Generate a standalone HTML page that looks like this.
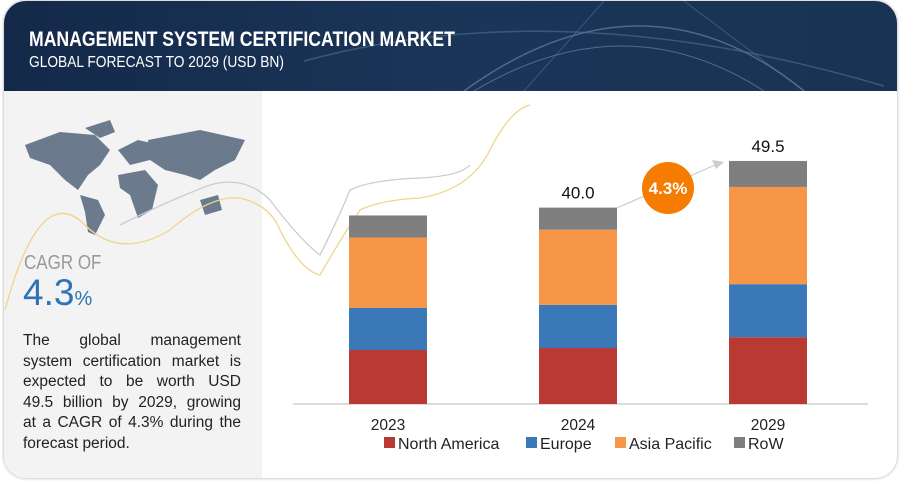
<!DOCTYPE html>
<html><head><meta charset="utf-8">
<style>
html,body{margin:0;padding:0;background:#fff;}
body{width:900px;height:481px;position:relative;overflow:hidden;font-family:"Liberation Sans",sans-serif;}
#card{position:absolute;left:4px;top:1px;width:893px;height:477px;border-radius:22px;background:#fff;box-shadow:0 0 3px rgba(0,0,0,0.35);overflow:hidden;}
#header{position:absolute;left:0;top:0;width:893px;height:90px;background:linear-gradient(90deg,#14294a 0%,#1a3558 50%,#193354 100%);}
#left{position:absolute;left:0;top:90px;width:258px;height:387px;background:#f3f3f3;}
.t1{position:absolute;left:25px;top:27px;color:#fff;font-weight:bold;font-size:21px;white-space:nowrap;transform:scaleX(0.84);transform-origin:0 0;}
.t2{position:absolute;left:25px;top:53px;color:#fff;font-size:16px;white-space:nowrap;transform:scaleX(0.86);transform-origin:0 0;}
.cagr{position:absolute;left:24px;top:252px;color:#999;font-size:20px;white-space:nowrap;transform:scaleX(0.85);transform-origin:0 0;}
.big{position:absolute;left:23px;top:272px;color:#2e74b5;font-size:37px;}
.big span{font-size:20px;}
.desc{position:absolute;left:23px;top:331px;width:218px;color:#222;font-size:15.5px;line-height:20.5px;}
.desc div{text-align:justify;text-align-last:justify;white-space:nowrap;}
.desc div.last{text-align-last:left;}
</style></head><body>
<div id="card">
 <div id="header">
  <svg width="893" height="90" style="position:absolute;left:0;top:0">
   <path d="M460 90 Q640 -40 800 90" stroke="#6d8db0" stroke-width="1.5" fill="none" opacity="0.6"/>
   <path d="M470 90 Q620 0 760 90" stroke="#8aa3c0" stroke-width="1" fill="none" opacity="0.5"/>
   <path d="M300 60 Q560 -10 880 85" stroke="#4f6f95" stroke-width="1.5" fill="none" opacity="0.6"/>
   <path d="M520 90 L600 0" stroke="#5b7aa0" stroke-width="1" opacity="0.5"/>
   <path d="M680 0 L800 90" stroke="#5b7aa0" stroke-width="1" opacity="0.5"/>
  </svg>
  <div class="t1">MANAGEMENT SYSTEM CERTIFICATION MARKET</div>
  <div class="t2">GLOBAL FORECAST TO 2029 (USD BN)</div>
 </div>
 <div id="left"></div>
</div>
<svg width="900" height="481" style="position:absolute;left:0;top:0">
 <g fill="#6c7a8e">
  <path d="M25 145 L60 132 L95 135 L110 150 L100 165 L88 175 L78 190 L65 180 L50 165 L30 158Z"/>
  <path d="M85 128 L110 120 L115 132 L100 138Z"/>
  <path d="M80 195 L98 200 L105 215 L95 235 L88 232 L85 212Z"/>
  <path d="M118 150 L138 140 L160 145 L150 160 L130 165Z"/>
  <path d="M118 175 L145 170 L158 185 L152 210 L138 218 L130 195 L120 188Z"/>
  <path d="M148 140 L200 130 L245 140 L235 160 L215 170 L200 180 L185 175 L165 170 L150 160Z"/>
  <path d="M200 200 L218 195 L222 210 L205 215Z"/>
 </g>
 <path d="M5 310 Q40 180 85 225 Q120 260 170 230 Q210 195 240 198 Q270 205 280 230" stroke="#f0d488" stroke-width="1.3" fill="none"/>
 <path d="M120 225 Q170 200 210 185 Q245 175 270 200 Q300 240 320 255 Q340 215 350 190 Q370 180 420 178 Q460 176 470 165" stroke="#ccc" stroke-width="1.3" fill="none"/>
 <path d="M280 230 Q300 270 320 275 Q340 240 360 210 Q380 200 420 198 Q470 190 490 150 Q510 110 530 105" stroke="#f0d488" stroke-width="1.3" fill="none"/>
</svg>
<div class="cagr">CAGR OF</div>
<div class="big">4.3<span>%</span></div>
<div class="desc">
<div>The global management</div>
<div>system certification market is</div>
<div>expected to be worth USD</div>
<div>49.5 billion by 2029, growing</div>
<div>at a CAGR of 4.3% during the</div>
<div class="last">forecast period.</div>
</div>
<svg id="chart" width="900" height="481" style="position:absolute;left:0;top:0"></svg>
<script>
const categories=["2023","2024","2029"];
const northAmerica=[11.0,11.4,13.6];
const europe=[8.6,8.8,10.8];
const asiaPacific=[14.3,15.3,19.8];
const row=[4.5,4.5,5.3];
const totalLabels=["","40.0","49.5"];
const seriesNames=["North America","Europe","Asia Pacific","RoW"];
const colors=["#b83a33","#3b78b7","#f79646","#7f7f7f"];
const svg=document.getElementById('chart');
const NS="http://www.w3.org/2000/svg";
const baseY=404, pxPer=4.91, barW=78;
const yPos=v=>baseY-v*pxPer;
const xCenter=i=>388+i*190;
function mk(tag,attrs){const e=document.createElementNS(NS,tag);for(const k in attrs)e.setAttribute(k,attrs[k]);svg.appendChild(e);return e;}
const axis=mk('line',{x1:293,x2:868,y1:baseY,y2:baseY,stroke:'#d0d0d0','stroke-width':1.5});


const series=[northAmerica,europe,asiaPacific,row];
categories.forEach((c,i)=>{
 let cum=0;
 series.forEach((s,k)=>{
  const r=mk('rect',{x:xCenter(i)-barW/2,y:yPos(cum+s[i]),width:barW,height:s[i]*pxPer,fill:colors[k]});
  
  
  cum+=s[i];
 });
 if(totalLabels[i]){
  const t=mk('text',{x:xCenter(i),y:yPos(cum)-9,'text-anchor':'middle','font-size':17,fill:'#111','font-family':'Liberation Sans, sans-serif'});
  t.textContent=totalLabels[i];
  
  
 }
 const l=mk('text',{x:xCenter(i),y:430,'text-anchor':'middle','font-size':15.5,fill:'#222','font-family':'Liberation Sans, sans-serif'});
 l.textContent=c;
 
 
});
const arr=mk('line',{x1:617,y1:208,x2:715,y2:165,stroke:'#ccc','stroke-width':1.2});


const ah=mk('path',{d:'M724 162 L712 160 L716 169Z',fill:'#ccc'});


const circ=mk('circle',{cx:668,cy:188,r:26,fill:'#f57c00'});


const ct=mk('text',{x:668,y:194,'text-anchor':'middle','font-size':17,'font-weight':'bold',fill:'#fff','font-family':'Liberation Sans, sans-serif'});
ct.textContent='4.3%';


const legX=[384,526,615,734];
seriesNames.forEach((n,k)=>{
 const sq=mk('rect',{x:legX[k],y:437,width:11,height:11,fill:colors[k]});
 
 
 const t=mk('text',{x:legX[k]+14,y:449,'font-size':16,fill:'#222','font-family':'Liberation Sans, sans-serif'});
 t.textContent=n;
 
 
});
</script>
</body></html>
